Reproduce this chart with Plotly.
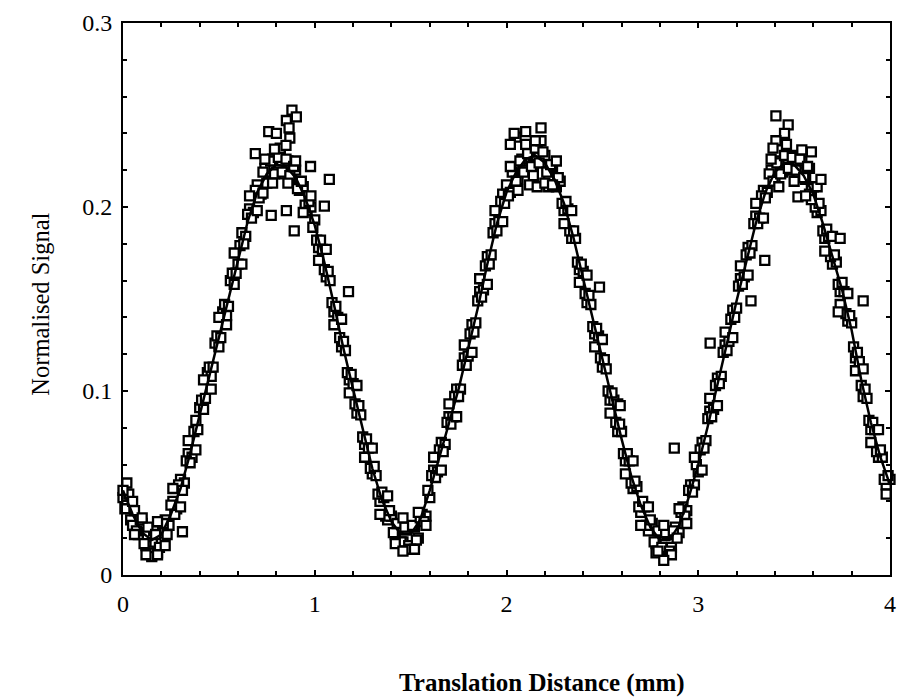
import plotly.graph_objects as go

# ---- fitted curve (every 0.05 mm) ----
fit_x = [round(0.05 * i, 2) for i in range(81)]
fit_y = [0.046, 0.033, 0.023, 0.019, 0.022, 0.033, 0.047, 0.066, 0.087, 0.108,
         0.129, 0.151, 0.172, 0.192, 0.208, 0.218, 0.223, 0.222, 0.216, 0.205,
         0.190, 0.170, 0.147, 0.123, 0.101, 0.079, 0.058, 0.041, 0.029, 0.022,
         0.022, 0.030, 0.046, 0.064, 0.082, 0.101, 0.123, 0.145, 0.169, 0.191,
         0.208, 0.219, 0.226, 0.228, 0.224, 0.215, 0.202, 0.183, 0.161, 0.139,
         0.117, 0.095, 0.074, 0.054, 0.038, 0.026, 0.019, 0.019, 0.027, 0.042,
         0.060, 0.081, 0.103, 0.126, 0.149, 0.170, 0.191, 0.208, 0.219, 0.224,
         0.223, 0.217, 0.207, 0.191, 0.173, 0.155, 0.133, 0.106, 0.083, 0.064,
         0.049]

# ---- measured points, scan A (x = 0.00, 0.02, ... 4.00) ----
scanA_x = [round(0.02 * i, 2) for i in range(201)]
scanA_y = [0.042, 0.038, 0.030, 0.035, 0.022, 0.028, 0.016, 0.013, 0.024, 0.012,
           0.018, 0.030, 0.027, 0.040, 0.036, 0.052, 0.050, 0.066, 0.064, 0.084,
           0.091, 0.090, 0.110, 0.108, 0.126, 0.124, 0.143, 0.141, 0.160, 0.158,
           0.169, 0.186, 0.184, 0.199, 0.197, 0.212, 0.207, 0.221, 0.214, 0.226,
           0.219, 0.228, 0.218, 0.225, 0.216, 0.220, 0.209, 0.211, 0.198, 0.200,
           0.193, 0.178, 0.177, 0.162, 0.160, 0.143, 0.140, 0.124, 0.122, 0.106,
           0.104, 0.088, 0.087, 0.071, 0.069, 0.055, 0.054, 0.040, 0.042, 0.030,
           0.032, 0.022, 0.026, 0.018, 0.025, 0.016, 0.026, 0.020, 0.033, 0.032,
           0.042, 0.057, 0.056, 0.072, 0.071, 0.086, 0.086, 0.101, 0.101, 0.118,
           0.119, 0.136, 0.137, 0.154, 0.155, 0.173, 0.174, 0.191, 0.192, 0.207,
           0.212, 0.208, 0.221, 0.215, 0.226, 0.220, 0.230, 0.223, 0.232, 0.224,
           0.228, 0.217, 0.222, 0.211, 0.214, 0.198, 0.199, 0.183, 0.183, 0.166,
           0.165, 0.148, 0.147, 0.131, 0.130, 0.113, 0.112, 0.095, 0.095, 0.078,
           0.078, 0.062, 0.062, 0.047, 0.048, 0.034, 0.037, 0.024, 0.028, 0.017,
           0.023, 0.014, 0.022, 0.015, 0.026, 0.023, 0.037, 0.035, 0.049, 0.049,
           0.056, 0.072, 0.073, 0.089, 0.090, 0.107, 0.108, 0.125, 0.127, 0.144,
           0.145, 0.161, 0.162, 0.178, 0.179, 0.195, 0.194, 0.209, 0.208, 0.220,
           0.215, 0.225, 0.219, 0.228, 0.220, 0.228, 0.219, 0.225, 0.215, 0.221,
           0.211, 0.197, 0.198, 0.183, 0.184, 0.169, 0.170, 0.154, 0.154, 0.138,
           0.137, 0.118, 0.116, 0.097, 0.096, 0.079, 0.079, 0.064, 0.064, 0.049,
           0.052]

# ---- measured points, scan B (x = 0.01, 0.03, ... 3.99) ----
scanB_x = [round(0.01 + 0.02 * i, 2) for i in range(200)]
scanB_y = [0.036, 0.044, 0.027, 0.024, 0.030, 0.017, 0.026, 0.011, 0.022, 0.015,
           0.028, 0.022, 0.038, 0.033, 0.049, 0.046, 0.062, 0.061, 0.078, 0.079,
           0.095, 0.096, 0.113, 0.113, 0.130, 0.129, 0.147, 0.146, 0.164, 0.164,
           0.179, 0.180, 0.196, 0.194, 0.209, 0.205, 0.219, 0.213, 0.225, 0.218,
           0.227, 0.219, 0.226, 0.217, 0.222, 0.210, 0.214, 0.201, 0.203, 0.189,
           0.182, 0.182, 0.166, 0.165, 0.148, 0.146, 0.129, 0.127, 0.110, 0.109,
           0.093, 0.092, 0.075, 0.074, 0.058, 0.059, 0.044, 0.045, 0.032, 0.035,
           0.023, 0.028, 0.018, 0.026, 0.016, 0.027, 0.019, 0.031, 0.029, 0.046,
           0.054, 0.053, 0.068, 0.067, 0.083, 0.082, 0.097, 0.097, 0.114, 0.114,
           0.131, 0.132, 0.149, 0.151, 0.168, 0.169, 0.186, 0.187, 0.203, 0.202,
           0.206, 0.219, 0.214, 0.225, 0.219, 0.229, 0.222, 0.232, 0.224, 0.230,
           0.219, 0.223, 0.212, 0.216, 0.202, 0.203, 0.187, 0.187, 0.170, 0.169,
           0.153, 0.152, 0.135, 0.134, 0.118, 0.117, 0.100, 0.099, 0.083, 0.082,
           0.066, 0.066, 0.050, 0.051, 0.037, 0.040, 0.027, 0.030, 0.018, 0.024,
           0.015, 0.023, 0.013, 0.024, 0.020, 0.034, 0.032, 0.046, 0.045, 0.060,
           0.068, 0.069, 0.085, 0.086, 0.103, 0.104, 0.121, 0.122, 0.139, 0.140,
           0.157, 0.158, 0.174, 0.175, 0.191, 0.191, 0.206, 0.205, 0.218, 0.214,
           0.224, 0.218, 0.228, 0.221, 0.227, 0.220, 0.226, 0.216, 0.222, 0.210,
           0.200, 0.202, 0.187, 0.188, 0.173, 0.174, 0.158, 0.159, 0.142, 0.141,
           0.124, 0.121, 0.103, 0.101, 0.084, 0.083, 0.067, 0.068, 0.052, 0.054]

# ---- measured points, scan C (x = 0.02, 0.06, ... 3.98) ----
scanC_x = [round(0.02 + 0.04 * i, 2) for i in range(100)]
scanC_y = [0.050, 0.022, 0.031, 0.012, 0.029, 0.016, 0.047, 0.037, 0.073, 0.068,
           0.106, 0.101, 0.140, 0.136, 0.175, 0.169, 0.206, 0.198, 0.226, 0.213,
           0.232, 0.213, 0.225, 0.197, 0.206, 0.171, 0.177, 0.136, 0.139, 0.099,
           0.103, 0.064, 0.069, 0.033, 0.043, 0.017, 0.031, 0.014, 0.034, 0.027,
           0.064, 0.057, 0.093, 0.086, 0.125, 0.121, 0.161, 0.158, 0.198, 0.192,
           0.222, 0.209, 0.234, 0.217, 0.236, 0.211, 0.225, 0.191, 0.198, 0.159,
           0.163, 0.124, 0.128, 0.088, 0.093, 0.055, 0.062, 0.027, 0.037, 0.012,
           0.027, 0.011, 0.036, 0.028, 0.064, 0.057, 0.096, 0.092, 0.132, 0.129,
           0.168, 0.163, 0.202, 0.194, 0.226, 0.211, 0.234, 0.214, 0.231, 0.207,
           0.211, 0.176, 0.184, 0.147, 0.153, 0.111, 0.112, 0.072, 0.079, 0.044]

# ---- scattered / outlying points ----
extra_x = [0.881, 0.904, 0.852, 0.866, 0.76, 0.80, 0.87, 0.69, 0.79, 0.85,
           0.978, 1.076, 0.852, 0.773, 0.893, 1.05, 0.73, 1.176, 2.485, 2.593,
           2.875, 3.062, 3.405, 3.469, 3.45, 3.405, 3.59, 3.64, 3.52, 3.59,
           3.56, 3.74, 3.86, 3.73, 3.347, 3.275, 2.12, 2.16, 2.20, 2.24,
           2.05, 2.10, 2.18, 2.15, 0.31, 0.15, 0.18, 0.12, 1.46, 1.52,
           2.82, 2.79, 0.00, 0.05, 2.04, 2.02, 3.39]
extra_y = [0.2527, 0.249, 0.247, 0.243, 0.241, 0.240, 0.2375, 0.229, 0.2315, 0.2335,
           0.222, 0.215, 0.198, 0.1955, 0.187, 0.2005, 0.2075, 0.154, 0.1565, 0.092,
           0.069, 0.126, 0.2495, 0.2446, 0.240, 0.236, 0.230, 0.215, 0.2055, 0.204,
           0.206, 0.183, 0.149, 0.143, 0.171, 0.149, 0.212, 0.211, 0.213, 0.212,
           0.238, 0.241, 0.243, 0.236, 0.0235, 0.010, 0.011, 0.011, 0.013, 0.014,
           0.008, 0.013, 0.046, 0.040, 0.240, 0.234, 0.232]

pts_x = scanA_x + scanB_x + scanC_x + extra_x
pts_y = scanA_y + scanB_y + scanC_y + extra_y

FONT = "Liberation Serif"

fig = go.Figure()
fig.add_trace(go.Scatter(
    x=pts_x, y=pts_y, mode="markers",
    marker=dict(symbol="square", size=9, color="white",
                line=dict(color="black", width=2.3)),
    showlegend=False, hoverinfo="skip", cliponaxis=False))
fig.add_trace(go.Scatter(
    x=fit_x, y=fit_y, mode="lines", line=dict(color="black", width=2.5),
    showlegend=False, hoverinfo="skip"))

axis_common = dict(
    showline=True, linecolor="black", linewidth=2, mirror="ticks",
    ticks="inside", tickcolor="black", tickwidth=1.5, ticklen=5,
    showgrid=False, zeroline=False, automargin=False,
    tickfont=dict(family=FONT, size=24, color="black"),
)

fig.update_xaxes(
    range=[0, 4], tickvals=[0, 1, 2, 3, 4], ticktext=["0", "1", "2", "3", "4"],
    minor=dict(dtick=0.2, ticks="inside", ticklen=4, tickcolor="black", tickwidth=1.5),
    ticklabelstandoff=6,
    **axis_common)
fig.update_yaxes(
    range=[0, 0.3], tickvals=[0, 0.1, 0.2, 0.3], ticktext=["0", "0.1", "0.2", "0.3"],
    minor=dict(dtick=0.02, ticks="inside", ticklen=4, tickcolor="black", tickwidth=1.5),
    ticklabelstandoff=4,
    **axis_common)

fig.add_annotation(
    text="<b>Translation Distance (mm)</b>", xref="paper", yref="paper",
    x=0.5465, y=-0.196, xanchor="center", yanchor="middle", showarrow=False,
    font=dict(family=FONT, size=25, color="black"))
fig.add_annotation(
    text="Normalised Signal", xref="paper", yref="paper",
    x=-0.108, y=0.49, xanchor="center", yanchor="middle", showarrow=False,
    textangle=-90, font=dict(family=FONT, size=24.5, color="black"))

fig.update_layout(
    width=901, height=698,
    margin=dict(l=123, r=11, t=23, b=123, pad=0),
    paper_bgcolor="white", plot_bgcolor="white",
)

fig.write_html("out.html")
